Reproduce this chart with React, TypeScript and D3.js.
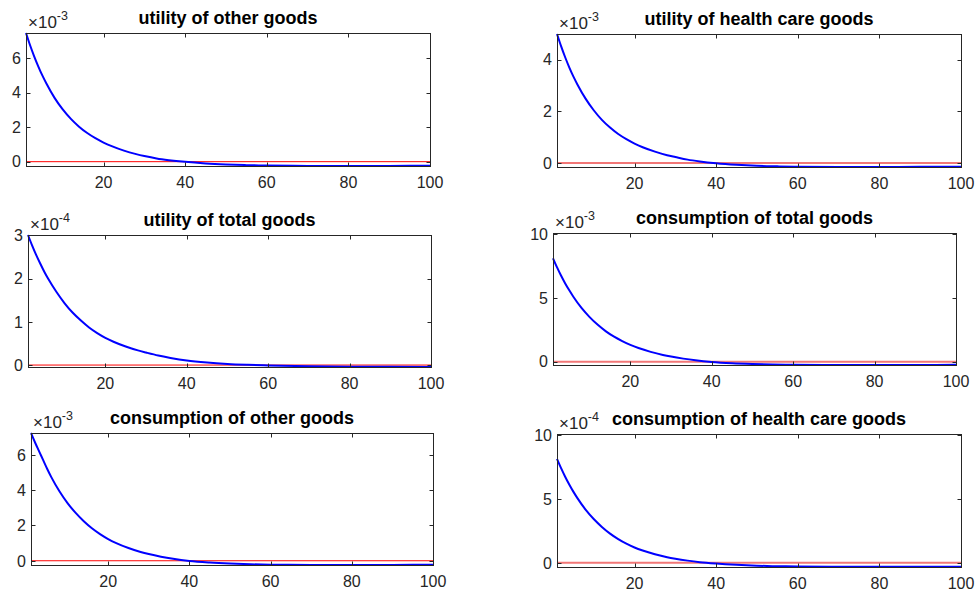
import React from "react";
import * as d3 from "d3";

const periods = [1, 2, 3, 4, 5, 6, 8, 10, 12, 14, 16, 18, 20, 22, 25, 28, 30, 33, 36, 40, 45, 50, 55, 60, 70, 80, 90, 100];
const xTicks = [20, 40, 60, 80, 100];
const xDomain = [1, 100];
const steadyState = 0;

// impulse responses (in units of the panel's exponent)
const utilityOther = [7.46, 6.75, 6.11, 5.53, 5.0, 4.53, 3.7, 3.03, 2.48, 2.03, 1.66, 1.36, 1.11, 0.9, 0.64, 0.44, 0.33, 0.19, 0.09, -0.01, -0.1, -0.16, -0.2, -0.225, -0.245, -0.25, -0.245, -0.24];
const utilityHealth = [4.99, 4.52, 4.09, 3.7, 3.35, 3.04, 2.49, 2.04, 1.67, 1.37, 1.12, 0.92, 0.75, 0.61, 0.44, 0.3, 0.23, 0.13, 0.06, -0.01, -0.07, -0.11, -0.13, -0.145, -0.155, -0.155, -0.15, -0.145];
const utilityTotal = [3.01, 2.77, 2.55, 2.35, 2.16, 1.99, 1.69, 1.43, 1.21, 1.03, 0.87, 0.74, 0.63, 0.54, 0.43, 0.34, 0.29, 0.22, 0.165, 0.105, 0.058, 0.027, 0.007, -0.008, -0.028, -0.038, -0.042, -0.043];
const consumptionTotal = [8.12, 7.4, 6.74, 6.14, 5.6, 5.1, 4.22, 3.5, 2.89, 2.38, 1.96, 1.62, 1.32, 1.07, 0.77, 0.53, 0.4, 0.24, 0.11, -0.02, -0.12, -0.18, -0.22, -0.24, -0.255, -0.26, -0.255, -0.25];
const consumptionOther = [7.24, 6.7, 6.2, 5.7, 5.2, 4.74, 3.94, 3.27, 2.71, 2.24, 1.84, 1.51, 1.23, 1.0, 0.72, 0.5, 0.38, 0.23, 0.11, -0.01, -0.1, -0.16, -0.2, -0.22, -0.235, -0.24, -0.235, -0.23];
const consumptionHealth = [8.15, 7.42, 6.75, 6.14, 5.58, 5.07, 4.17, 3.43, 2.81, 2.29, 1.86, 1.5, 1.2, 0.96, 0.67, 0.44, 0.32, 0.17, 0.05, -0.06, -0.16, -0.23, -0.27, -0.29, -0.31, -0.315, -0.31, -0.305];

const titles = [
  "utility of other goods",
  "utility of health care goods",
  "utility of total goods",
  "consumption of total goods",
  "consumption of other goods",
  "consumption of health care goods",
];
const series = [utilityOther, utilityHealth, utilityTotal, consumptionTotal, consumptionOther, consumptionHealth];
const exponents = ["-3", "-3", "-4", "-3", "-3", "-4"];
const yTicks = [
  [0, 2, 4, 6],
  [0, 2, 4],
  [0, 1, 2, 3],
  [0, 5, 10],
  [0, 2, 4, 6],
  [0, 5, 10],
];
const yLimits = [
  [-0.25, 7.46],
  [-0.155, 4.99],
  [-0.045, 3.01],
  [-0.26, 10.1],
  [-0.24, 7.24],
  [-0.33, 10.1],
];

// axes boxes: left, top, right, bottom (px)
const boxes = [
  [26, 33, 430, 166],
  [557, 34, 961, 167],
  [28, 235, 431, 367],
  [553, 233, 956, 365],
  [31, 433, 433, 565],
  [557, 434, 961, 567],
];

const AXIS = "#262626";
const FONT = "'Liberation Sans', Arial, Helvetica, sans-serif";
const TICK = 4;

function Panel({ i }: { i: number }) {
  const [L, T, R, B] = boxes[i];
  const x = d3.scaleLinear().domain(xDomain).range([L, R]);
  const y = d3.scaleLinear().domain(yLimits[i]).range([B, T]);
  const pts = periods.map((p, k) => [p, series[i][k]] as [number, number]);
  const line = d3
    .line<[number, number]>()
    .x((d) => x(d[0]))
    .y((d) => y(d[1]))
    .curve(d3.curveMonotoneX);
  const rightCol = i % 2 === 1;
  const redColor = rightCol ? "#f27777" : "#ff0000";
  const redWidth = rightCol ? 2 : 1;

  return (
    <g>
      {/* steady state */}
      <line
        x1={x(xDomain[0])}
        x2={x(xDomain[1])}
        y1={y(steadyState)}
        y2={y(steadyState)}
        stroke={redColor}
        strokeWidth={redWidth}
      />
      <path d={line(pts) ?? ""} fill="none" stroke="#0000ff" strokeWidth={2} />

      {/* box */}
      <rect x={L + 0.5} y={T + 0.5} width={R - L} height={B - T} fill="none" stroke={AXIS} strokeWidth={1} />

      {/* x ticks */}
      {xTicks.map((t) => {
        const px = Math.round(x(t)) + 0.5;
        return (
          <g key={`x${t}`}>
            <line x1={px} x2={px} y1={B + 0.5} y2={B + 0.5 - TICK} stroke={AXIS} />
            <line x1={px} x2={px} y1={T + 0.5} y2={T + 0.5 + TICK} stroke={AXIS} />
            <text x={x(t)} y={B + 22} textAnchor="middle" fontSize={16} fill={AXIS} fontFamily={FONT}>
              {t}
            </text>
          </g>
        );
      })}

      {/* y ticks */}
      {yTicks[i].map((t) => {
        const py = Math.round(y(t)) + 0.5;
        return (
          <g key={`y${t}`}>
            <line x1={L + 0.5} x2={L + 0.5 + TICK} y1={py} y2={py} stroke={AXIS} />
            <line x1={R + 0.5} x2={R + 0.5 - TICK} y1={py} y2={py} stroke={AXIS} />
            <text x={L - 5} y={y(t)} dy="0.36em" textAnchor="end" fontSize={16} fill={AXIS} fontFamily={FONT}>
              {t}
            </text>
          </g>
        );
      })}

      {/* exponent */}
      <text x={L + 2} y={T - 5} fontSize={17} fill={AXIS} fontFamily={FONT}>
        ×10
        <tspan fontSize={12.5} dy={-8}>
          {exponents[i]}
        </tspan>
      </text>

      {/* title */}
      <text
        x={(L + R) / 2}
        y={T - 9}
        textAnchor="middle"
        fontSize={18}
        fontWeight="bold"
        fill="#000"
        fontFamily={FONT}
      >
        {titles[i]}
      </text>
    </g>
  );
}

export default function App() {
  return (
    <svg
      width={978}
      height={596}
      style={{ position: "absolute", left: 0, top: 0, background: "#fff" }}
    >
      <rect width={978} height={596} fill="#fff" />
      {titles.map((_, i) => (
        <Panel key={i} i={i} />
      ))}
    </svg>
  );
}
